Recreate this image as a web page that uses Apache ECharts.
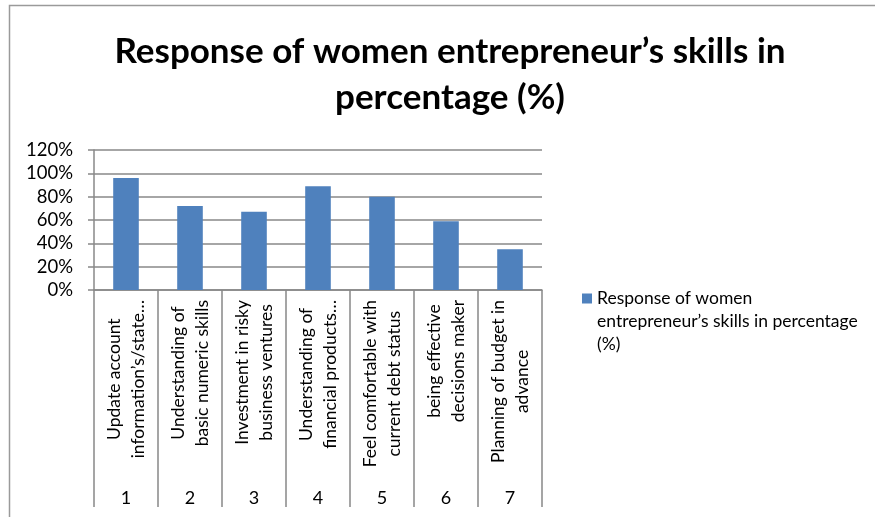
<!DOCTYPE html>
<html>
<head>
<meta charset="utf-8">
<script src="https://cdn.jsdelivr.net/npm/echarts@6/dist/echarts.min.js"></script>
<style>html,body{margin:0;padding:0;background:#fff}#c{width:875px;height:517px}</style>
</head>
<body>
<div id="c"></div>
<script>
const titleText = 'Response of women entrepreneur\u2019s skills in\npercentage (%)';
const seriesName = 'Response of women entrepreneur\u2019s skills in percentage (%)';
const legendLines = ['Response of women', 'entrepreneur\u2019s skills in percentage', '(%)'];
const categoryLines = [
  ['Update account', 'information\u2019s/state\u2026'],
  ['Understanding of', 'basic numeric skills'],
  ['Investment in risky', 'business ventures'],
  ['Understanding of', 'financial products\u2026'],
  ['Feel comfortable with', 'current debt status'],
  ['being effective', 'decisions maker'],
  ['Planning of budget in', 'advance']
];
const categoryNumbers = ['1', '2', '3', '4', '5', '6', '7'];
const values = [96, 72, 67, 89, 80, 59, 35];
const yTicks = { min: 0, max: 120, interval: 20 };

const FONT = 'Lato';
const categories = categoryLines.map(l => l.join('\n'));

const chart = echarts.init(document.getElementById('c'), null, { renderer: 'canvas' });
chart.setOption({
  backgroundColor: '#fff',
  animation: false,
  graphic: [{
    type: 'rect', z: -1,
    shape: { x: 9.5, y: 5.5, width: 1000, height: 1000 },
    style: { fill: 'none', stroke: '#9a9a9a', lineWidth: 1.5 }
  }],
  title: {
    text: titleText,
    left: 445,
    top: 24,
    textAlign: 'center',
    padding: 5,
    textStyle: { fontFamily: FONT, fontWeight: 'bold', fontSize: 35, lineHeight: 46, color: '#000' }
  },
  grid: { left: 94, right: 333, top: 150, bottom: 227, containLabel: false },
  legend: {
    left: 582, top: 241,
    padding: 0,
    icon: 'rect', itemWidth: 10, itemHeight: 10, itemGap: 5,
    formatter: () => ['', ''].concat(legendLines).join('\n'),
    textStyle: { fontFamily: FONT, fontSize: 17.5, lineHeight: 23, color: '#000' }
  },
  xAxis: [{
    type: 'category',
    data: categories,
    position: 'bottom',
    axisLine: { lineStyle: { color: '#888', width: 1.5 } },
    axisTick: { show: true, length: 217, lineStyle: { color: '#888', width: 1.5 } },
    axisLabel: {
      interval: 0, rotate: 90, margin: 10,
      formatter: v => v.split('\n').map(s => '{c|' + s + '}').join('\n'),
      rich: { c: { align: 'center', fontFamily: FONT, fontSize: 17.5, lineHeight: 24, color: '#000' } }
    }
  }, {
    type: 'category',
    data: categoryNumbers,
    position: 'bottom',
    offset: 190,
    axisLine: { show: false },
    axisTick: { show: false },
    axisLabel: { interval: 0, margin: 9, fontFamily: FONT, fontSize: 18, color: '#000' }
  }],
  yAxis: {
    type: 'value',
    min: yTicks.min, max: yTicks.max, interval: yTicks.interval,
    axisLine: { show: true, lineStyle: { color: '#888', width: 1.5 } },
    axisTick: { show: true, length: 6, lineStyle: { color: '#888', width: 1.5 } },
    splitLine: { show: true, lineStyle: { color: '#888', width: 1.5 } },
    axisLabel: { formatter: '{value}%', margin: 21, fontFamily: FONT, fontSize: 18.5, color: '#000' }
  },
  series: [{
    type: 'bar',
    name: seriesName,
    data: values,
    barWidth: '40%',
    itemStyle: { color: '#4F81BD' }
  }]
});
</script>
</body>
</html>
